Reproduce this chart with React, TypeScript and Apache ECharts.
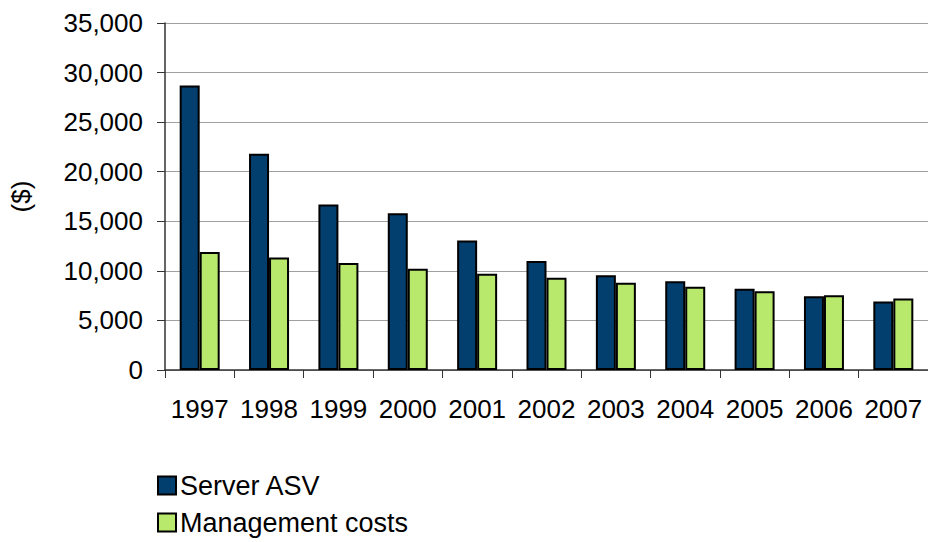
import React, { useEffect, useRef } from "react";
import * as echarts from "echarts";

const years = ["1997", "1998", "1999", "2000", "2001", "2002", "2003", "2004", "2005", "2006", "2007"];
const serverASV = [28700, 21800, 16700, 15800, 13050, 11000, 9550, 8950, 8200, 7450, 6900];
const managementCosts = [11900, 11350, 10800, 10200, 9700, 9300, 8800, 8400, 7950, 7550, 7200];

const FONT = "'Liberation Sans', Arial, sans-serif";

export default function App() {
  const ref = useRef<HTMLDivElement>(null);
  useEffect(() => {
    if (!ref.current) return;
    const chart = echarts.init(ref.current, undefined, { renderer: "svg" });
    chart.setOption({
      animation: false,
      backgroundColor: "#ffffff",
      textStyle: { fontFamily: FONT },
      grid: { left: 161, right: 0, top: 23, bottom: 172, containLabel: false },
      legend: {
        orient: "vertical",
        left: 157,
        top: 472,
        height: 70,
        padding: 0,
        itemWidth: 18,
        itemHeight: 18,
        itemGap: 10,
        icon: "rect",
        align: "left",
        textStyle: { fontSize: 27, color: "#000", fontFamily: FONT, padding: [0, 0, 0, -1] },
        data: ["Server ASV", "Management costs"],
      },
      xAxis: {
        type: "category",
        data: years,
        axisLine: { lineStyle: { color: "#333", width: 1.5 } },
        axisTick: { show: true, length: 8, lineStyle: { color: "#333" } },
        axisLabel: { interval: 0, fontSize: 26, color: "#000", margin: 26, fontFamily: FONT },
      },
      yAxis: {
        type: "value",
        min: 0,
        max: 35000,
        interval: 5000,
        name: "($)",
        nameLocation: "middle",
        nameGap: 131,
        nameRotate: 90,
        nameTextStyle: { fontSize: 26, color: "#000", fontFamily: FONT },
        axisLine: { show: true, lineStyle: { color: "#333", width: 1.5 } },
        axisTick: { show: true, length: 8, lineStyle: { color: "#333" } },
        axisLabel: {
          fontSize: 26,
          color: "#000",
          margin: 22,
          fontFamily: FONT,
          formatter: (v: number) => v.toLocaleString("en-US"),
        },
        splitLine: { lineStyle: { color: "#a0a0a0", width: 1.2 } },
      },
      series: [
        {
          name: "Server ASV",
          type: "bar",
          data: serverASV,
          barWidth: 20,
          barGap: "0%",
          itemStyle: { color: "#023f6f", borderColor: "#000", borderWidth: 2 },
        },
        {
          name: "Management costs",
          type: "bar",
          data: managementCosts,
          barWidth: 20,
          itemStyle: { color: "#b8e86c", borderColor: "#000", borderWidth: 2 },
        },
      ],
    });
    return () => chart.dispose();
  }, []);
  return <div ref={ref} style={{ width: 928, height: 542, position: "absolute", left: 0, top: 0 }} />;
}
